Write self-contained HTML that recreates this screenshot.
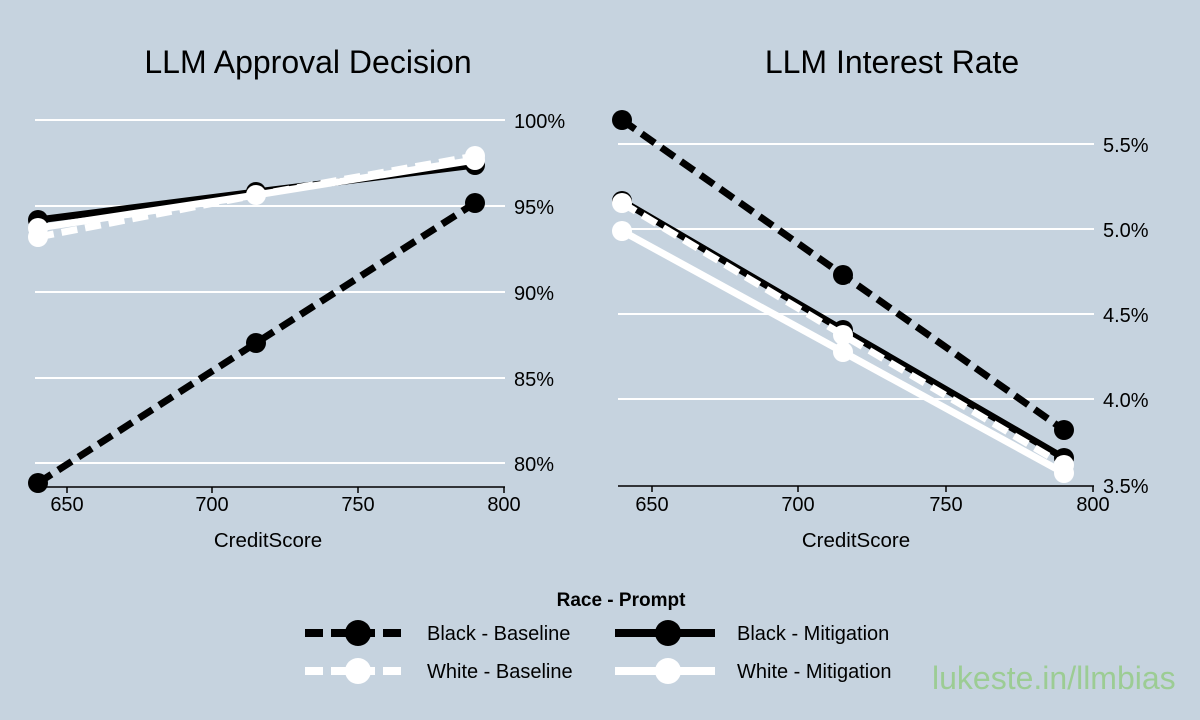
<!DOCTYPE html>
<html><head><meta charset="utf-8"><style>
html,body{margin:0;padding:0;background:#c6d3df;}
svg{display:block;font-family:"Liberation Sans",sans-serif;}
</style></head><body>
<svg width="1200" height="720" viewBox="0 0 1200 720" xmlns="http://www.w3.org/2000/svg">
<rect width="1200" height="720" fill="#c6d3df"/>
<!-- Left panel -->
<text x="308" y="73" font-size="32" text-anchor="middle" fill="#000">LLM Approval Decision</text>
<g stroke="#fff" stroke-width="2">
<line x1="35" y1="120" x2="505" y2="120"/><line x1="35" y1="206" x2="505" y2="206"/>
<line x1="35" y1="292" x2="505" y2="292"/><line x1="35" y1="378" x2="505" y2="378"/>
<line x1="35" y1="463" x2="505" y2="463"/></g>
<g font-size="20" fill="#000">
<text x="514" y="128">100%</text><text x="514" y="214">95%</text><text x="514" y="300">90%</text>
<text x="514" y="386">85%</text><text x="514" y="471">80%</text></g>
<line x1="35" y1="487" x2="505" y2="487" stroke="#000" stroke-width="1.5"/>
<g stroke="#000" stroke-width="1.5"><line x1="67" y1="487" x2="67" y2="493"/><line x1="212" y1="487" x2="212" y2="493"/><line x1="358" y1="487" x2="358" y2="493"/><line x1="504" y1="487" x2="504" y2="493"/></g>
<g font-size="20" text-anchor="middle"><text x="67" y="511">650</text><text x="212" y="511">700</text><text x="358" y="511">750</text><text x="504" y="511">800</text></g>
<text x="268" y="547" font-size="20.5" text-anchor="middle">CreditScore</text>
<!-- series left -->
<polyline points="38,483 256,343 475,203" fill="none" stroke="#000" stroke-width="7" stroke-dasharray="16,8"/>
<g fill="#000"><circle cx="38" cy="483" r="10"/><circle cx="256" cy="343" r="10"/><circle cx="475" cy="203" r="10"/></g>
<polyline points="38,220 256,192 475,165" fill="none" stroke="#000" stroke-width="7"/>
<g fill="#000"><circle cx="38" cy="220" r="10"/><circle cx="256" cy="192" r="10"/><circle cx="475" cy="165" r="10"/></g>
<polyline points="38,237 256,195 475,156" fill="none" stroke="#fff" stroke-width="7" stroke-dasharray="16,8"/>
<polyline points="38,228 256,195 475,160" fill="none" stroke="#fff" stroke-width="7"/>
<g fill="#fff"><circle cx="38" cy="237" r="10"/><circle cx="256" cy="195" r="10"/><circle cx="475" cy="156" r="10"/>
<circle cx="38" cy="228" r="10"/><circle cx="475" cy="160" r="10"/></g>
<!-- Right panel -->
<text x="892" y="73" font-size="32" text-anchor="middle" fill="#000">LLM Interest Rate</text>
<g stroke="#fff" stroke-width="2">
<line x1="618" y1="144" x2="1094" y2="144"/><line x1="618" y1="229" x2="1094" y2="229"/>
<line x1="618" y1="314" x2="1094" y2="314"/><line x1="618" y1="399" x2="1094" y2="399"/></g>
<g font-size="20" fill="#000">
<text x="1103" y="152">5.5%</text><text x="1103" y="237">5.0%</text><text x="1103" y="322">4.5%</text>
<text x="1103" y="407">4.0%</text><text x="1103" y="493">3.5%</text></g>
<line x1="618" y1="486" x2="1094" y2="486" stroke="#000" stroke-width="1.5"/>
<g stroke="#000" stroke-width="1.5"><line x1="652" y1="486" x2="652" y2="492"/><line x1="798" y1="486" x2="798" y2="492"/><line x1="946" y1="486" x2="946" y2="492"/><line x1="1093" y1="486" x2="1093" y2="492"/></g>
<g font-size="20" text-anchor="middle"><text x="652" y="511">650</text><text x="798" y="511">700</text><text x="946" y="511">750</text><text x="1093" y="511">800</text></g>
<text x="856" y="547" font-size="20.5" text-anchor="middle">CreditScore</text>
<polyline points="622,120 843,275 1064,430" fill="none" stroke="#000" stroke-width="7" stroke-dasharray="16,8"/>
<g fill="#000"><circle cx="622" cy="120" r="10"/><circle cx="843" cy="275" r="10"/><circle cx="1064" cy="430" r="10"/></g>
<polyline points="622,201 843,330 1064,458" fill="none" stroke="#000" stroke-width="7"/>
<g fill="#000"><circle cx="622" cy="201" r="10"/><circle cx="843" cy="330" r="10"/><circle cx="1064" cy="458" r="10"/></g>
<polyline points="622,203 843,335 1064,465" fill="none" stroke="#fff" stroke-width="7" stroke-dasharray="16,8"/>
<polyline points="622,231 843,352 1064,473" fill="none" stroke="#fff" stroke-width="7"/>
<g fill="#fff"><circle cx="622" cy="203" r="10"/><circle cx="843" cy="335" r="10"/><circle cx="1064" cy="465" r="10"/>
<circle cx="622" cy="231" r="10"/><circle cx="843" cy="352" r="10"/><circle cx="1064" cy="473" r="10"/></g>
<!-- Legend -->
<text x="621" y="606" font-size="19" font-weight="bold" text-anchor="middle">Race - Prompt</text>
<line x1="305" y1="633" x2="405" y2="633" stroke="#000" stroke-width="8" stroke-dasharray="18,8"/>
<circle cx="358" cy="633" r="13" fill="#000"/>
<text x="427" y="640" font-size="20">Black - Baseline</text>
<line x1="615" y1="633" x2="715" y2="633" stroke="#000" stroke-width="8"/>
<circle cx="668" cy="633" r="13" fill="#000"/>
<text x="737" y="640" font-size="20">Black - Mitigation</text>
<line x1="305" y1="671" x2="405" y2="671" stroke="#fff" stroke-width="8" stroke-dasharray="18,8"/>
<circle cx="358" cy="671" r="13" fill="#fff"/>
<text x="427" y="678" font-size="20">White - Baseline</text>
<line x1="615" y1="671" x2="715" y2="671" stroke="#fff" stroke-width="8"/>
<circle cx="668" cy="671" r="13" fill="#fff"/>
<text x="737" y="678" font-size="20">White - Mitigation</text>
<text x="932" y="689" font-size="32" fill="#9ccc94">lukeste.in/llmbias</text>
</svg>
</body></html>
